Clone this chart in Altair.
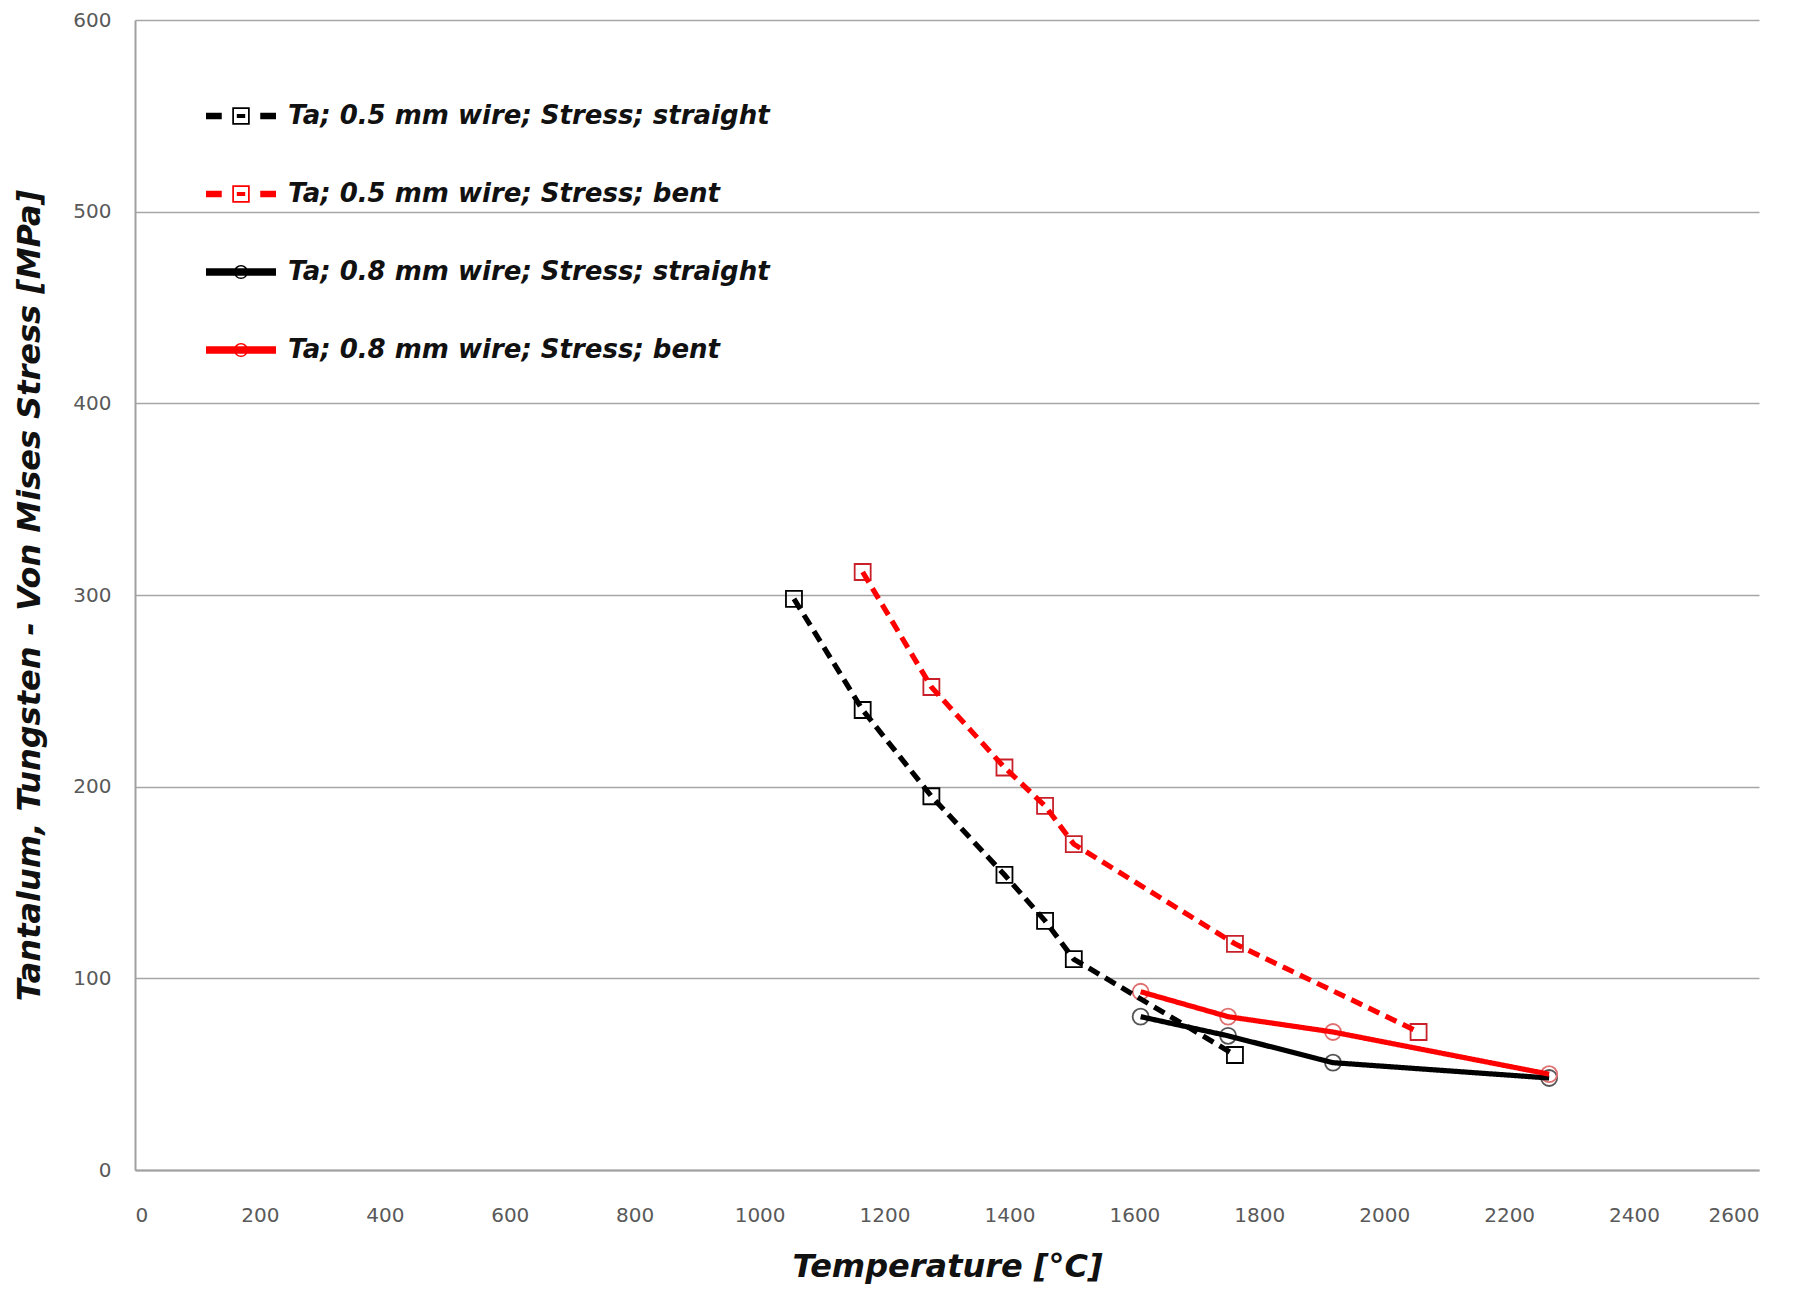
import altair as alt
import pandas as pd

# ---- data ----
series_names = [
    "Ta; 0.5 mm wire; Stress; straight",
    "Ta; 0.5 mm wire; Stress; bent",
    "Ta; 0.8 mm wire; Stress; straight",
    "Ta; 0.8 mm wire; Stress; bent",
]
t_05_straight = [1055, 1165, 1275, 1392, 1457, 1503, 1761]
s_05_straight = [298, 240, 195, 154, 130, 110, 60]
t_05_bent = [1165, 1275, 1392, 1457, 1503, 1761, 2055]
s_05_bent = [312, 252, 210, 190, 170, 118, 72]
t_08_straight = [1610, 1750, 1918, 2264]
s_08_straight = [80, 70, 56, 48]
t_08_bent = [1610, 1750, 1918, 2264]
s_08_bent = [93, 80, 72, 50]

x_ticks = list(range(0, 2601, 200))
y_ticks = list(range(0, 601, 100))

rows = []
for name, ts, ss in zip(series_names,
                        [t_05_straight, t_05_bent, t_08_straight, t_08_bent],
                        [s_05_straight, s_05_bent, s_08_straight, s_08_bent]):
    for i, (t, s) in enumerate(zip(ts, ss)):
        rows.append({"series": name, "T": t, "S": s, "i": i})
df = pd.DataFrame(rows)

line_colors = ["#000000", "#ff0000", "#000000", "#ff0000"]
point_colors = ["#000000", "#c8202a", "#555555", "#e07070"]
dashes = [[12, 7], [12, 7], [1, 0], [1, 0]]
widths = [5.2, 5.2, 5.5, 6]
shapes = ["square", "square", "circle", "circle"]

# legend symbols (filled paths: dash / marker / dash)
dash_sym = ("M-1,-0.09H-0.55V0.09H-1Z M0.55,-0.09H1V0.09H0.55Z "
            "M-0.12,-0.06H0.12V0.06H-0.12Z "
            "M-0.25,-0.25H0.25V0.25H-0.25Z M-0.2,-0.2V0.2H0.2V-0.2Z")
solid_sym = ("M-1,-0.11H1V0.11H-1Z "
             "M0.2,0A0.2,0.2 0 1,1 -0.2,0A0.2,0.2 0 1,1 0.2,0Z "
             "M0.16,0A0.16,0.16 0 1,0 -0.16,0A0.16,0.16 0 1,0 0.16,0Z")
sym_paths = [dash_sym, dash_sym, solid_sym, solid_sym]


def per_entry(values):
    expr = f"'{values[-1]}'"
    for n, v in reversed(list(zip(series_names[:-1], values[:-1]))):
        expr = f"datum.value === '{n}' ? '{v}' : ({expr})"
    return {"expr": expr}


legend = alt.Legend(
    title=None, orient="none", legendX=71, legendY=61, padding=0,
    symbolSize=4900, rowPadding=30, labelOffset=12,
    symbolType=per_entry(sym_paths),
    symbolFillColor=per_entry(line_colors),
    symbolStrokeColor="transparent", symbolStrokeWidth=0, symbolOpacity=1,
    labelFont="DejaVu Sans", labelFontSize=26, labelFontWeight="bold",
    labelFontStyle="italic", labelColor="#111111", labelLimit=1000,
)

x_enc = alt.X("T:Q", scale=alt.Scale(domain=[0, 2600], nice=False),
              axis=alt.Axis(values=x_ticks, format="d", title="Temperature [°C]", grid=False,
                            labelPadding=35, titlePadding=26))
y_enc = alt.Y("S:Q", scale=alt.Scale(domain=[0, 600], nice=False),
              axis=alt.Axis(values=y_ticks, format="d",
                            title="Tantalum, Tungsten - Von Mises Stress  [MPa]",
                            grid=True, labelPadding=24, titlePadding=26))

points = alt.Chart(df).mark_point(filled=False, size=256, strokeWidth=1.8, opacity=1).encode(
    x=x_enc, y=y_enc,
    shape=alt.Shape("series:N", scale=alt.Scale(domain=series_names, range=shapes), legend=None),
    stroke=alt.Stroke("series:N", scale=alt.Scale(domain=series_names, range=point_colors),
                      legend=None),
)

lines = alt.Chart(df).mark_line(strokeCap="butt").encode(
    x="T:Q", y="S:Q",
    color=alt.Color("series:N", scale=alt.Scale(domain=series_names, range=line_colors),
                    legend=legend),
    strokeDash=alt.StrokeDash("series:N", scale=alt.Scale(domain=series_names, range=dashes),
                              legend=None),
    strokeWidth=alt.StrokeWidth("series:N", scale=alt.Scale(domain=series_names, range=widths),
                                legend=None),
    order="i:Q",
    detail="series:N",
)

chart = alt.layer(points, lines).resolve_scale(
    color="independent", stroke="independent"
).properties(
    width=1624, height=1150,
    padding={"left": 5, "top": 2, "right": 5, "bottom": 8},
).configure_view(stroke=None).configure_axis(
    labelFont="DejaVu Sans", labelFontSize=20, labelColor="#595959",
    titleFont="DejaVu Sans", titleFontSize=32, titleFontWeight="bold",
    titleFontStyle="italic", titleColor="#111111",
    domainColor="#a0a0a0", domainWidth=2, gridColor="#a6a6a6", gridWidth=1.6,
    ticks=False,
)

chart.save("out.html", embed_options={"renderer": "svg", "actions": False})
